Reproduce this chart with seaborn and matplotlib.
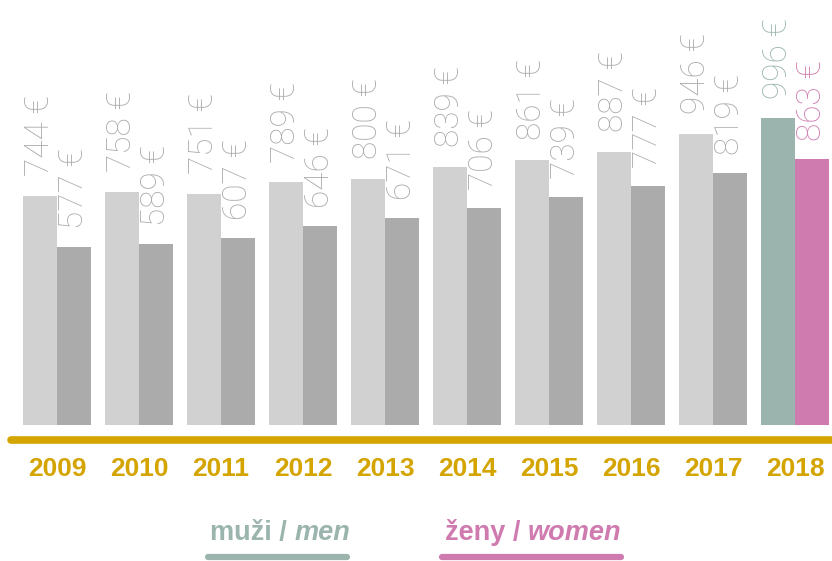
import matplotlib
matplotlib.use("Agg")
import matplotlib.pyplot as plt
import seaborn as sns
import pandas as pd
from matplotlib.lines import Line2D

years = ["2009", "2010", "2011", "2012", "2013", "2014", "2015", "2016", "2017", "2018"]
men = [744, 758, 751, 789, 800, 839, 861, 887, 946, 996]
women = [577, 589, 607, 646, 671, 706, 739, 777, 819, 863]

c_men, c_women = "#d1d1d1", "#ababab"
c_men_hl, c_women_hl = "#9bb5ae", "#cf7bb0"
gold = "#d4a400"
label_gray = "#ababab"

df = pd.DataFrame({
    "year": years * 2,
    "value": men + women,
    "sex": ["men"] * len(years) + ["women"] * len(years),
})

sns.set_theme(style="white")
plt.rcParams["font.family"] = ["Liberation Sans", "DejaVu Sans"]

W, H = 832, 561
fig = plt.figure(figsize=(W / 100, H / 100), dpi=100)
ax = fig.add_axes([0, (H - 425) / H, 1, 425 / H])

sns.barplot(data=df, x="year", y="value", hue="sex", order=years,
            hue_order=["men", "women"], palette=[c_men, c_women],
            width=0.83, saturation=1, legend=False, linewidth=0, ax=ax)

n = len(years)
bars = list(ax.patches)
men_bars, women_bars = bars[:n], bars[n:]
for b in bars:
    b.set_linewidth(0)
    b.set_edgecolor("none")
men_bars[-1].set_facecolor(c_men_hl)
women_bars[-1].set_facecolor(c_women_hl)

for bars_set, vals, off in ((men_bars, men, 14), (women_bars, women, 13)):
    for i, (b, v) in enumerate(zip(bars_set, vals)):
        col = label_gray
        if i == n - 1:
            col = c_men_hl if bars_set is men_bars else c_women_hl
        ax.annotate(f"{v} €", (b.get_x() + b.get_width() / 2, b.get_height()),
                    xytext=(0, off), textcoords="offset points",
                    rotation=90, ha="center", va="bottom",
                    fontsize=24, color=col, family=["Roboto", "DejaVu Sans"],
                    fontweight="light")

ax.set_xlim(-57 / 82, (832 - 57) / 82)
ax.set_ylim(0, 1380)
ax.axis("off")

# gold baseline
fig.add_artist(Line2D([11 / W, 1.02], [1 - 440 / H, 1 - 440 / H],
                      transform=fig.transFigure, color=gold, lw=5.5,
                      solid_capstyle="round"))

# year labels
for i, y in enumerate(years):
    xf = (57 + 82 * i) / W
    fig.text(xf, 1 - 469 / H, y, ha="center", va="center", fontsize=19,
             fontweight="bold", color=gold)

# legend
def legend_item(x0, y_text, regular, italic, color, ux0, ux1):
    t = fig.text(x0 / W, 1 - y_text / H, regular, ha="left", va="baseline",
                 fontsize=19.5, fontweight="bold", color=color)
    ax.annotate(italic, xy=(1, 0), xycoords=t, ha="left", va="bottom",
                fontsize=19.5, fontweight="bold", fontstyle="italic", color=color)
    fig.add_artist(Line2D([ux0 / W, ux1 / W], [1 - 557 / H, 1 - 557 / H],
                          transform=fig.transFigure, color=color, lw=4.5,
                          solid_capstyle="round"))

legend_item(210, 540, "muži / ", "men", c_men_hl, 208, 347)
legend_item(445, 540, "ženy / ", "women", c_women_hl, 442, 621)

fig.savefig("out.png", dpi=100)
